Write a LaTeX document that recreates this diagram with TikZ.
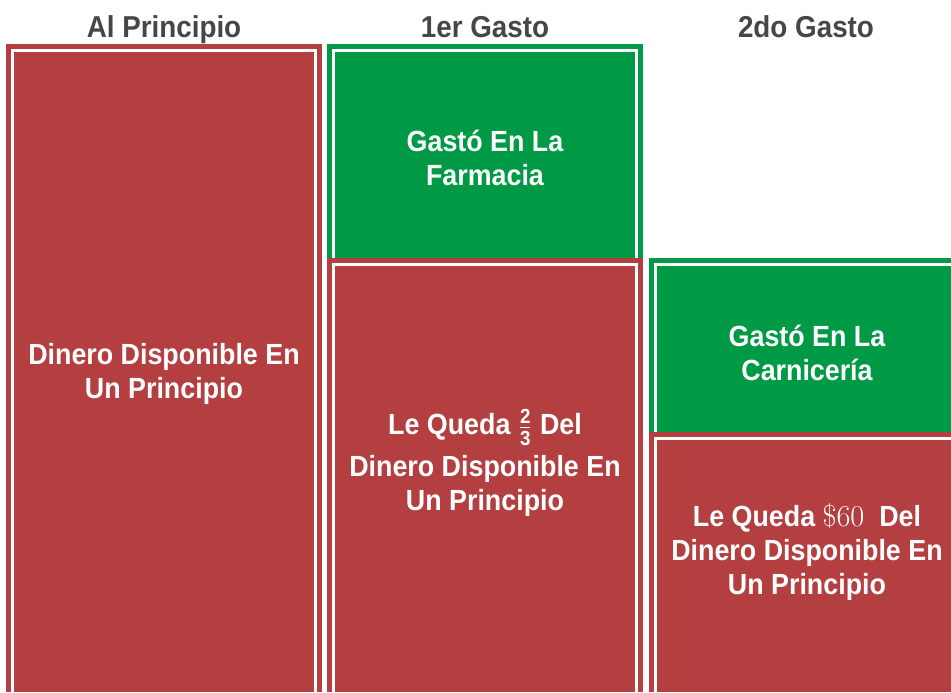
\documentclass[tikz,border=0pt]{standalone}
\usepackage{amsmath}
\usepackage{fontspec}
\setmainfont{Liberation Sans}[FakeStretch=0.92]
\usetikzlibrary{positioning}
\definecolor{gastorojo}{RGB}{179,63,64}
\definecolor{gastoverde}{RGB}{0,154,71}
\definecolor{titulogris}{RGB}{70,70,70}

\begin{document}
\begin{tikzpicture}[
        x=0.02cm, y=-0.02cm,
        caja/.style={line width=0.1cm, double=white, double distance=0.05cm, minimum width=6.07cm, inner sep=0pt, outer sep=0pt},
        cajaroja/.style={caja, draw=gastorojo, fill=gastorojo},
        cajaverde/.style={caja, draw=gastoverde, fill=gastoverde},
        texto/.style={text=white, font=\fontsize{16.6}{19.35}\selectfont\bfseries, align=center, anchor=base, inner sep=0pt},
        titulo/.style={text=titulogris, font=\fontsize{17.2}{19.35}\selectfont\bfseries, anchor=base, inner sep=0pt}
    ]
        \useasboundingbox (0,0) rectangle (951,693);
        \clip (0,0) rectangle (951,691);

        % Titulos
        \node[titulo] (tit1) at (164,37.3) {Al Principio};
        \node[titulo] (tit2) at (485,37.3) {1er Gasto};
        \node[titulo] (tit3) at (806,37.3) {2do Gasto};

        % Al principio
        \node[cajaroja, minimum height=12.87cm] (inicio) at (164,372) {};

        % 1er gasto
        \node[cajaverde, minimum height=4.27cm] (farmacia) at (485,157) {};
        \node[cajaroja, minimum height=8.59cm] (resto1) at (485,479) {};

        % 2do gasto
        \node[cajaverde, minimum height=3.49cm] (carniceria) at (807,351.5) {};
        \node[cajaroja, minimum height=5.11cm] (resto2) at (807,566) {};

        % Textos (base = ultima linea)
        \node[texto] (txtinicio) at (164,398.5) {Dinero Disponible En\\Un Principio};
        \node[texto] (txtfarmacia) at (485,185) {Gastó En La\\Farmacia};
        \node[texto] (txtresto1) at (485,510) {Le Queda $\frac{\text{2}}{\text{3}}$ Del\\[4pt]Dinero Disponible En\\Un Principio};
        \node[texto] (txtcarniceria) at (807,380) {Gastó En La\\Carnicería};
        \node[texto] (txtresto2) at (807,594) {Le Queda $\$60$~ Del\\Dinero Disponible En\\Un Principio};

    \end{tikzpicture}
\end{document}
